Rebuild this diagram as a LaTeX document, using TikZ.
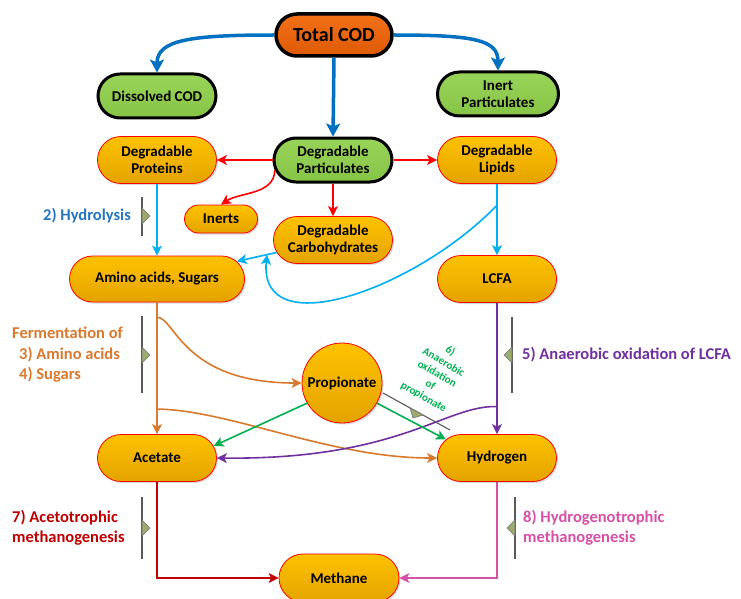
\documentclass[tikz,border=0pt]{standalone}
\usepackage{fontspec}
\setmainfont{Carlito}
\usetikzlibrary{shapes.misc,arrows.meta,shadows,calc}
\definecolor{codblue}{RGB}{0,112,192}
\definecolor{skyblue}{RGB}{0,176,240}
\definecolor{fermorange}{RGB}{217,121,46}
\definecolor{lcfapurple}{RGB}{112,48,160}
\definecolor{propgreen}{RGB}{0,176,80}
\definecolor{acetred}{RGB}{192,0,0}
\definecolor{hydropink}{RGB}{214,80,166}
\definecolor{hydroblue}{RGB}{36,117,196}
\definecolor{pooltop}{RGB}{255,194,0}
\definecolor{poolbottom}{RGB}{228,163,0}
\definecolor{feedtop}{RGB}{152,212,88}
\definecolor{feedbottom}{RGB}{134,196,70}
\definecolor{codtop}{RGB}{242,112,22}
\definecolor{codbottom}{RGB}{222,90,6}
\definecolor{tickfill}{RGB}{155,172,110}
\tikzset{
  pool/.style={rounded rectangle, draw=red, line width=0.8pt, top color=pooltop, bottom color=poolbottom,
    minimum width=123pt, minimum height=47pt, inner sep=2pt, align=center,
    font=\bfseries\fontsize{15}{17.3}\selectfont,
    drop shadow={shadow xshift=1.5pt, shadow yshift=-1.5pt, opacity=.25, fill=black!60}},
  feed/.style={rounded rectangle, draw=black, line width=3pt, top color=feedtop, bottom color=feedbottom,
    minimum width=122pt, minimum height=44pt, inner sep=2pt, align=center,
    font=\bfseries\fontsize{15}{17.3}\selectfont},
  lab/.style={inner sep=0pt, align=left, font=\bfseries\fontsize{16.5}{20.5}\selectfont},
  brace/.style={draw=black!65, line width=1.1pt},
  tick/.style={draw=black!55, fill=tickfill, line width=0.6pt, line join=round},
  thin arrow/.style={line width=1.6pt, -{Stealth[length=10pt, width=10pt, inset=2.5pt]}}
}
\begin{document}
\begin{tikzpicture}[x=1pt, y=-1pt]
  \useasboundingbox (0,0) rectangle (741,599);
  \node[feed, rounded rectangle, line width=3.5pt, top color=codtop, bottom color=codbottom,
    minimum width=120pt, minimum height=42pt, font=\bfseries\fontsize{20}{22}\selectfont] (total) at (334,35) {Total COD};
  \node[feed] (dissolved) at (157,96) {Dissolved COD};
  \node[feed, minimum width=125pt] (inert) at (498,94) {Inert\\Particulates};
  \node[feed] (dp) at (333,160) {Degradable\\Particulates};
  \node[pool] (proteins) at (157,160) {Degradable\\Proteins};
  \node[pool] (lipids) at (497,160) {Degradable\\Lipids};
  \node[pool, minimum width=77pt, minimum height=28pt] (inerts) at (221,219) {Inerts};
  \node[pool] (carbs) at (333,240) {Degradable\\Carbohydrates};
  \node[pool, minimum width=179pt, minimum height=46pt] (amino) at (157,279) {Amino acids, Sugars};
  \node[pool] (lcfa) at (497,279) {LCFA};
  \node[pool, circle, minimum size=80pt, inner sep=0pt] (prop) at (342,383) {Propionate};
  \node[pool] (acetate) at (157,458) {Acetate};
  \node[pool] (hydrogen) at (497,458) {Hydrogen};
  \node[pool, minimum width=124pt, minimum height=48pt] (methane) at (339,578) {Methane};

  \draw[codblue, line width=3.5pt, -{Stealth[length=13pt, width=14pt, inset=3pt]}] (total.west) .. controls (190,35) and (157,40) .. (dissolved.north);
  \draw[codblue, line width=3.5pt, -{Stealth[length=13pt, width=14pt, inset=3pt]}] (total.east) .. controls (475,35) and (498,40) .. (inert.north);
  \draw[codblue, line width=3.5pt, -{Stealth[length=13pt, width=14pt, inset=3pt]}] (total.south) -- (dp.north);

  \draw[thin arrow, red] (dp.west) -- (proteins.east);
  \draw[thin arrow, red] (dp.east) -- (lipids.west);
  \draw[thin arrow, red] (dp.south) -- (carbs.north);
  \draw[thin arrow, red] (dp.190) .. controls (274,195) and (240,192) .. (inerts.north);

  \coordinate (lipbranch) at ($(lipids.south)!0.3!(lcfa.north)$);
  \coordinate (carbjoin) at ($(carbs)!0.375!(amino)$);
  \draw[thin arrow, skyblue] (proteins.south) -- (amino.north);
  \draw[thin arrow, skyblue] (lipids.south) -- (lcfa.north);
  \draw[thin arrow, skyblue] (carbs) -- (amino);
  \draw[thin arrow, skyblue] (lipbranch) .. controls (415,290) and (258,345) .. (carbjoin);

  \coordinate (fermtop) at ($(amino.south)!0.113!(acetate.north)$);
  \coordinate (fermlow) at ($(amino.south)!0.81!(acetate.north)$);
  \draw[thin arrow, fermorange] (amino.south) -- (acetate.north);
  \draw[thin arrow, fermorange] (fermtop) .. controls (175,317) and (182,383) .. (prop.west);
  \draw[thin arrow, fermorange] (fermlow) .. controls (230,410) and (330,458) .. (hydrogen.west);

  \coordinate (lcfabranch) at ($(lcfa.south)!0.79!(hydrogen.north)$);
  \draw[thin arrow, lcfapurple] (lcfa.south) -- (hydrogen.north);
  \draw[thin arrow, lcfapurple] (lcfabranch) .. controls (445,405) and (400,460) .. (acetate.east);

  \draw[thin arrow, propgreen] (prop.210) -- (acetate.12);
  \draw[thin arrow, propgreen] (prop.330) -- (hydrogen.160);

  \draw[thin arrow, acetred] (acetate.south) |- (methane.west);
  \draw[thin arrow, hydropink] (hydrogen.south) |- (methane.east);

  \draw[brace] (142,197) -- (142,236);
  \draw[tick] (142,208) -- (150,216) -- (142,224) -- cycle;
  \node[lab, text=hydroblue, anchor=east] (hydrolysis) at (131,216) {2) Hydrolysis};

  \draw[brace] (142,316) -- (142,393);
  \draw[tick] (142,347) -- (150,355) -- (142,363) -- cycle;
  \node[lab, text=fermorange, anchor=west] (fermentation) at (12,355) {Fermentation of\\\hspace*{7pt}3) Amino acids\\\hspace*{7pt}4) Sugars};

  \draw[brace] (512,317) -- (512,393);
  \draw[tick] (512,347) -- (504,355) -- (512,363) -- cycle;
  \node[lab, text=lcfapurple, anchor=west] (oxlcfa) at (522,355) {5) Anaerobic oxidation of LCFA};

  \draw[brace] (383,393) -- (450,430);
  \draw[tick] (410,408) -- (413,418) -- (423,415) -- cycle;
  \node[rotate=-30, inner sep=0pt, align=center, text=propgreen, font=\bfseries\fontsize{11}{13.3}\selectfont] (oxprop) at (437,374) {6)\\Anaerobic\\oxidation\\of\\propionate};

  \draw[brace] (142,497) -- (142,559);
  \draw[tick] (142,520) -- (150,528) -- (142,536) -- cycle;
  \node[lab, text=acetred, anchor=west] (acetotrophic) at (12,528) {7) Acetotrophic\\methanogenesis};

  \draw[brace] (515,497) -- (515,559);
  \draw[tick] (515,520) -- (507,528) -- (515,536) -- cycle;
  \node[lab, text=hydropink, anchor=west] (hydrogenotrophic) at (523,528) {8) Hydrogenotrophic\\methanogenesis};
\end{tikzpicture}
\end{document}
